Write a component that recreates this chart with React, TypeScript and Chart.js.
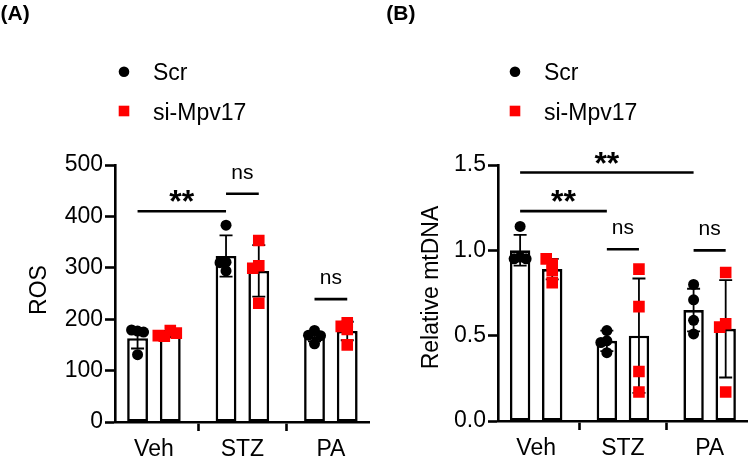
import React, { useEffect, useRef } from "react";
import { Chart, registerables } from "chart.js";

Chart.register(...registerables);

// ---------- data ----------
const categories = ["Veh", "STZ", "PA"];
const seriesNames = ["Scr", "si-Mpv17"];

// Panel A: ROS
const rosMeanScr = [163, 323, 166];
const rosMeanSi = [171, 294, 177];
const rosSdScr = [20, 40, 9];
const rosSdSi = [6, 50, 18];
const rosPtsScr = [[177, 179, 175, 131], [383, 311, 310, 294], [178, 169, 168, 152]];
const rosPtsSi = [[178, 167, 173, 168], [353, 304, 299, 231], [193, 186, 180, 150]];
const rosTicks = [0, 100, 200, 300, 400, 500];
const rosSigFrom = [[0, 0], [1, 0], [2, 0]];
const rosSigTo = [[1, 0], [1, 1], [2, 1]];
const rosSigY = [410, 444, 239];
const rosSigLabel = ["**", "ns", "ns"];

// Panel B: Relative mtDNA
const mtMeanScr = [1.0, 0.47, 0.65];
const mtMeanSi = [0.89, 0.5, 0.54];
const mtSdScr = [0.09, 0.06, 0.125];
const mtSdSi = [0.06, 0.335, 0.285];
const mtPtsScr = [[1.14, 0.96, 0.95, 0.95], [0.53, 0.47, 0.46, 0.4], [0.8, 0.71, 0.59, 0.51]];
const mtPtsSi = [[0.92, 0.95, 0.88, 0.81], [0.89, 0.67, 0.29, 0.17], [0.87, 0.57, 0.55, 0.17]];
const mtTicks = [0, 0.5, 1.0, 1.5];
const mtSigFrom = [[0, 0], [0, 0], [1, 0], [2, 0]];
const mtSigTo = [[2, 0], [1, 0], [1, 1], [2, 1]];
const mtSigY = [1.456, 1.23, 1.006, 1.0];
const mtSigLabel = ["**", "**", "ns", "ns"];

// ---------- style / layout ----------
const FONT = '"Liberation Sans", Arial, Helvetica, sans-serif';
const RED = "#ff0000";
const CW = 378;
const CH = 458;
const LW = 2.6;

type Panel = {
  tag: string;
  yTitle: string;
  meanScr: number[];
  meanSi: number[];
  sdScr: number[];
  sdSi: number[];
  ptsScr: number[][];
  ptsSi: number[][];
  ticks: number[];
  fmt: (v: number) => string;
  sigFrom: number[][];
  sigTo: number[][];
  sigY: number[];
  sigLabel: string[];
  canvasLeft: number;
  area: { left: number; right: number; top: number; bottom: number };
  legMarkerDx: number;
  legTextDx: number;
  titleCx: number;
  titleCy: number;
  tagX: number;
};

const panelA: Panel = {
  tag: "(A)",
  yTitle: "ROS",
  meanScr: rosMeanScr,
  meanSi: rosMeanSi,
  sdScr: rosSdScr,
  sdSi: rosSdSi,
  ptsScr: rosPtsScr,
  ptsSi: rosPtsSi,
  ticks: rosTicks,
  fmt: (v) => String(v),
  sigFrom: rosSigFrom,
  sigTo: rosSigTo,
  sigY: rosSigY,
  sigLabel: rosSigLabel,
  canvasLeft: 0,
  area: { left: 115, right: 372, top: 165, bottom: 422 },
  legMarkerDx: 9,
  legTextDx: 38,
  titleCx: 37.5,
  titleCy: 290,
  tagX: 0.5,
};

const panelB: Panel = {
  tag: "(B)",
  yTitle: "Relative mtDNA",
  meanScr: mtMeanScr,
  meanSi: mtMeanSi,
  sdScr: mtSdScr,
  sdSi: mtSdSi,
  ptsScr: mtPtsScr,
  ptsSi: mtPtsSi,
  ticks: mtTicks,
  fmt: (v) => v.toFixed(1),
  sigFrom: mtSigFrom,
  sigTo: mtSigTo,
  sigY: mtSigY,
  sigLabel: mtSigLabel,
  canvasLeft: 378,
  area: { left: 120, right: 375, top: 165, bottom: 421 },
  legMarkerDx: 17,
  legTextDx: 46,
  titleCx: 52,
  titleCy: 287.5,
  tagX: 8.3,
};

function swarm(ys: number[], step: number, minDist: number): number[] {
  const placed: { x: number; y: number }[] = [];
  return ys.map((y) => {
    const cands = [0, -step, step, -2 * step, 2 * step, -3 * step, 3 * step];
    for (const c of cands) {
      if (placed.every((p) => Math.hypot(p.x - c, p.y - y) >= minDist)) {
        placed.push({ x: c, y });
        return c;
      }
    }
    placed.push({ x: 0, y });
    return 0;
  });
}

function makePlugin(p: Panel) {
  return {
    id: "panelDeco",
    afterDatasetsUpdate(chart: any) {
      for (let s = 0; s < 2; s++) {
        const meta = chart.getDatasetMeta(s);
        const barMeta = chart.getDatasetMeta(2 + s);
        const groups = s === 0 ? p.ptsScr : p.ptsSi;
        let k = 0;
        groups.forEach((g, i) => {
          const els = meta.data.slice(k, k + g.length);
          k += g.length;
          const cx = barMeta.data[i].x;
          const offs = swarm(els.map((e: any) => e.y), 6, 6);
          els.forEach((e: any, j: number) => {
            e.x = cx + offs[j];
          });
        });
      }
    },
    afterDatasetDraw(chart: any, args: any) {
      if (args.index < 2) return;
      const s = args.index - 2;
      const mean = s === 0 ? p.meanScr : p.meanSi;
      const sd = s === 0 ? p.sdScr : p.sdSi;
      const y = chart.scales.y;
      const ctx = chart.ctx;
      ctx.save();
      ctx.strokeStyle = "#000";
      ctx.lineWidth = 1.8;
      args.meta.data.forEach((bar: any, i: number) => {
        const x = bar.x;
        const yt = y.getPixelForValue(mean[i] + sd[i]);
        const yb = y.getPixelForValue(mean[i] - sd[i]);
        ctx.beginPath();
        ctx.moveTo(x, yt);
        ctx.lineTo(x, yb);
        ctx.moveTo(x - 6.5, yt);
        ctx.lineTo(x + 6.5, yt);
        ctx.moveTo(x - 6.5, yb);
        ctx.lineTo(x + 6.5, yb);
        ctx.stroke();
      });
      ctx.restore();
    },
    afterDraw(chart: any) {
      const ctx = chart.ctx;
      const y = chart.scales.y;
      const left = chart.chartArea.left;
      ctx.save();
      ctx.fillStyle = "#000";
      ctx.strokeStyle = "#000";
      // significance
      p.sigLabel.forEach((lab, k) => {
        const [ca, sa] = p.sigFrom[k];
        const [cb, sb] = p.sigTo[k];
        const xa = chart.getDatasetMeta(2 + sa).data[ca].x;
        const xb = chart.getDatasetMeta(2 + sb).data[cb].x;
        const py = y.getPixelForValue(p.sigY[k]);
        ctx.lineWidth = LW;
        ctx.beginPath();
        ctx.moveTo(xa, py);
        ctx.lineTo(xb, py);
        ctx.stroke();
        ctx.textAlign = "center";
        ctx.textBaseline = "alphabetic";
        if (lab === "ns") {
          ctx.font = `21px ${FONT}`;
          ctx.fillText(lab, (xa + xb) / 2, py - 15);
        } else {
          ctx.font = `bold 32px ${FONT}`;
          ctx.fillText(lab, (xa + xb) / 2, py + 1);
        }
      });
      // legend
      const mx = left + p.legMarkerDx;
      const tx = left + p.legTextDx;
      ctx.fillStyle = "#000";
      ctx.beginPath();
      ctx.arc(mx, 71.7, 5.3, 0, Math.PI * 2);
      ctx.fill();
      ctx.fillStyle = RED;
      ctx.fillRect(mx - 5.3, 111 - 5.3, 10.6, 10.6);
      ctx.fillStyle = "#000";
      ctx.font = `23px ${FONT}`;
      ctx.textAlign = "left";
      ctx.textBaseline = "alphabetic";
      ctx.fillText(seriesNames[0], tx, 80);
      ctx.fillText(seriesNames[1], tx, 120);
      // panel tag
      ctx.font = `bold 21px ${FONT}`;
      ctx.fillText(p.tag, p.tagX, 19.5);
      // y title
      ctx.save();
      ctx.font = `23px ${FONT}`;
      ctx.translate(p.titleCx + 0.358 * 23, p.titleCy);
      ctx.rotate(-Math.PI / 2);
      ctx.textAlign = "center";
      ctx.fillText(p.yTitle, 0, 0);
      ctx.restore();
      ctx.restore();
    },
  };
}

function makeConfig(p: Panel): any {
  const flat = (pts: number[][]) => pts.flatMap((g, i) => g.map((v) => ({ x: i, y: v })));
  const barCommon = {
    type: "bar",
    backgroundColor: "#ffffff",
    borderColor: "#000000",
    borderWidth: LW,
    borderSkipped: false,
    categoryPercentage: 0.74,
    barPercentage: 0.636,
    order: 1,
  };
  return {
    type: "bar",
    data: {
      datasets: [
        {
          type: "scatter",
          label: seriesNames[0],
          data: flat(p.ptsScr),
          pointStyle: "circle",
          pointRadius: 5.5,
          pointBackgroundColor: "#000",
          pointBorderWidth: 0,
          showLine: false,
          order: 0,
        },
        {
          type: "scatter",
          label: seriesNames[1],
          data: flat(p.ptsSi),
          pointStyle: "rect",
          pointRadius: 8.2,
          pointBackgroundColor: RED,
          pointBorderWidth: 0,
          showLine: false,
          order: 0,
        },
        { ...barCommon, label: seriesNames[0], data: p.meanScr.map((v, i) => ({ x: i, y: v })) },
        { ...barCommon, label: seriesNames[1], data: p.meanSi.map((v, i) => ({ x: i, y: v })) },
      ],
    },
    options: {
      responsive: false,
      animation: false,
      events: [],
      devicePixelRatio: 1,
      layout: { padding: { left: 0, right: CW - p.area.right, top: p.area.top, bottom: 0 } },
      plugins: { legend: { display: false }, tooltip: { enabled: false }, title: { display: false } },
      scales: {
        x: {
          type: "linear",
          min: -0.44,
          max: 2.44,
          offset: false,
          afterBuildTicks: (s: any) => {
            s.ticks = categories.map((_, i) => ({ value: i }));
          },
          afterFit: (s: any) => {
            s.height = CH - p.area.bottom;
          },
          ticks: {
            callback: (v: any) => categories[Math.round(v)] ?? "",
            font: { family: FONT, size: 23 },
            color: "#000",
            padding: 5,
            maxRotation: 0,
            minRotation: 0,
            autoSkip: false,
          },
          grid: { display: true, drawOnChartArea: false, drawTicks: true, tickLength: 9, tickWidth: LW, tickColor: "#000" },
          border: { display: true, color: "#000", width: LW },
        },
        y: {
          type: "linear",
          min: p.ticks[0],
          max: p.ticks[p.ticks.length - 1],
          afterBuildTicks: (s: any) => {
            s.ticks = p.ticks.map((v) => ({ value: v }));
          },
          afterFit: (s: any) => {
            s.width = p.area.left;
          },
          ticks: {
            callback: (v: any) => p.fmt(Number(v)),
            font: { family: FONT, size: 23 },
            color: "#000",
            padding: 2,
          },
          grid: { display: true, drawOnChartArea: false, drawTicks: true, tickLength: 10, tickWidth: LW, tickColor: "#000" },
          border: { display: true, color: "#000", width: LW },
        },
      },
    },
    plugins: [makePlugin(p)],
  };
}

function PanelChart({ panel }: { panel: Panel }) {
  const ref = useRef<HTMLCanvasElement | null>(null);
  useEffect(() => {
    if (!ref.current) return;
    const chart = new Chart(ref.current, makeConfig(panel));
    return () => chart.destroy();
  }, [panel]);
  return (
    <canvas
      ref={ref}
      width={CW}
      height={CH}
      style={{ position: "absolute", left: panel.canvasLeft, top: 0, width: CW, height: CH }}
    />
  );
}

export default function App() {
  return (
    <div style={{ position: "absolute", left: 0, top: 0, width: 756, height: 458, background: "#fff" }}>
      <PanelChart panel={panelA} />
      <PanelChart panel={panelB} />
    </div>
  );
}
